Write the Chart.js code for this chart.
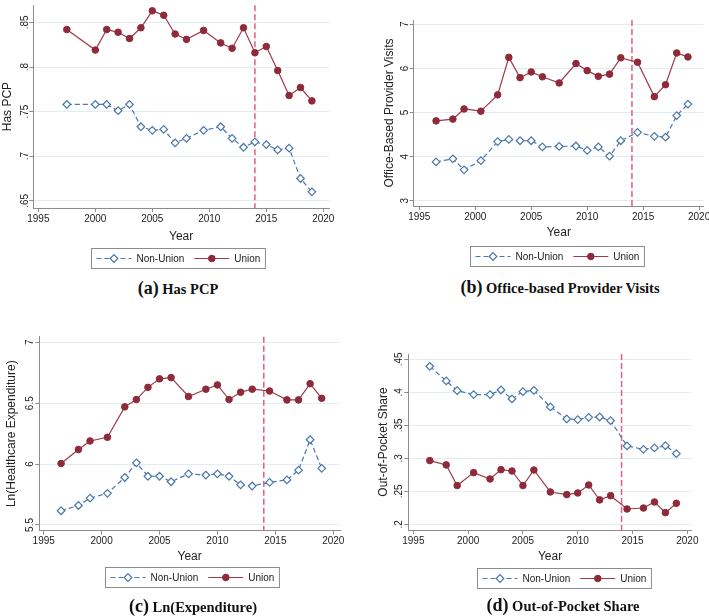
<!DOCTYPE html>
<html>
<head>
<meta charset="utf-8">
<script src="https://cdn.jsdelivr.net/npm/chart.js@4.4.1/dist/chart.umd.min.js"></script>
<style>
  html, body { margin: 0; padding: 0; background: #fff; }
  #page { position: relative; width: 709px; height: 616px; overflow: hidden; }
  canvas { position: absolute; }
  .cap { position: absolute; transform: translate(-50%, -50%); white-space: nowrap;
         font-family: 'Liberation Serif', 'Times New Roman', serif; font-weight: bold; font-size: 14.5px; color: #111; }
  .cap b { font-size: 18px; }
</style>
</head>
<body>
<div id="page">
  <canvas id="chartA" width="355" height="276" style="left:0;top:0"></canvas>
  <canvas id="chartB" width="354" height="276" style="left:355px;top:0"></canvas>
  <canvas id="chartC" width="355" height="288" style="left:0;top:308px"></canvas>
  <canvas id="chartD" width="354" height="288" style="left:355px;top:308px"></canvas>
  <div class="cap" style="left:178px;top:288px"><b>(a)</b> Has PCP</div>
  <div class="cap" style="left:560px;top:287px"><b>(b)</b> Office-based Provider Visits</div>
  <div class="cap" style="left:193px;top:606px"><b>(c)</b> Ln(Expenditure)</div>
  <div class="cap" style="left:563px;top:605px"><b>(d)</b> Out-of-Pocket Share</div>
</div>
<script>
// data
const yearsPcp = [1997.5, 2000, 2001, 2002, 2003, 2004, 2005, 2006, 2007, 2008, 2009.5, 2011, 2012, 2013, 2014, 2015, 2016, 2017, 2018, 2019]
const pcpNonUnion = [.758, .758, .758, .751, .758, .733, .729, .730, .715, .720, .729, .733, .720, .710, .716, .713, .707, .709, .675, .660]
const pcpUnion = [.842, .819, .842, .839, .832, .844, .863, .858, .837, .831, .841, .827, .821, .844, .816, .823, .796, .768, .777, .762]

const yearsPooled = [1996.5, 1998, 1999, 2000.5, 2002, 2003, 2004, 2005, 2006, 2007.5, 2009, 2010, 2011, 2012, 2013, 2014.5, 2016, 2017, 2018, 2019]
const visitsNonUnion = [3.88, 3.95, 3.70, 3.91, 4.34, 4.39, 4.36, 4.36, 4.22, 4.23, 4.24, 4.14, 4.22, 4.01, 4.36, 4.55, 4.46, 4.44, 4.93, 5.19]
const visitsUnion = [4.81, 4.85, 5.08, 5.03, 5.40, 6.25, 5.79, 5.92, 5.81, 5.67, 6.11, 5.95, 5.82, 5.87, 6.24, 6.14, 5.36, 5.63, 6.35, 6.26]
const lnExpNonUnion = [5.617, 5.66, 5.72, 5.76, 5.89, 6.01, 5.90, 5.90, 5.855, 5.92, 5.91, 5.92, 5.90, 5.83, 5.82, 5.85, 5.87, 5.95, 6.20, 5.965]
const lnExpUnion = [6.005, 6.12, 6.19, 6.22, 6.47, 6.53, 6.63, 6.70, 6.71, 6.555, 6.615, 6.65, 6.53, 6.59, 6.615, 6.60, 6.527, 6.527, 6.66, 6.54]
const oopNonUnion = [.4394, .4172, .4025, .3965, .3965, .4035, .3899, .401, .403, .3778, .3596, .3586, .3621, .3626, .357, .3187, .3136, .3157, .3192, .307]
const oopUnion = [.2965, .290, .2587, .2783, .2687, .2828, .2808, .2587, .2823, .249, .245, .2475, .2596, .237, .2434, .2232, .2247, .2338, .2177, .2318]

const yearTicks = [1995, 2000, 2005, 2010, 2015, 2020]
const pcpTicks = [.65, .7, .75, .8, .85]
const pcpTickLabels = ['.65', '.7', '.75', '.8', '.85']
const visitsTicks = [3, 4, 5, 6, 7]
const visitsTickLabels = ['3', '4', '5', '6', '7']
const lnExpTicks = [5.5, 6, 6.5, 7]
const lnExpTickLabels = ['5.5', '6', '6.5', '7']
const oopTicks = [.2, .25, .3, .35, .4, .45]
const oopTickLabels = ['.2', '.25', '.3', '.35', '.4', '.45']

const policyYear = 2014

/////////////////////////////////////////////////////////////
// styles
const blue = '#4a77ab'
const red = '#8e2a3a'
const redLine = '#9e3a48'
const axisGray = '#8c8c8c'
const gridColor = '#e1edf0'
const sansFont = "'Liberation Sans', Arial, sans-serif"

Chart.defaults.font.family = sansFont
Chart.defaults.color = '#222'

// dashed vertical line at the policy year
const policyLine = {
    id: 'policyLine',
    beforeDatasetsDraw(chart, args, opts) {
        const x = chart.scales.x.getPixelForValue(opts.year)
        const {top, bottom} = chart.chartArea
        const ctx = chart.ctx
        ctx.save()
        ctx.strokeStyle = '#e35f82'
        ctx.lineWidth = 1.5
        ctx.setLineDash([6, 3])
        ctx.beginPath()
        ctx.moveTo(x, top)
        ctx.lineTo(x, bottom)
        ctx.stroke()
        ctx.restore()
    }
}

// Stata-like legend: framed box, line + marker for each series
const boxLegend = {
    id: 'boxLegend',
    afterDraw(chart, args, opts) {
        const ctx = chart.ctx
        const items = chart.data.datasets
        ctx.save()
        ctx.font = '10px ' + sansFont
        const sym = 35, pad = 5, gap = 5, between = 10
        const widths = items.map(d => ctx.measureText(d.label).width)
        const total = pad * 2 + items.length * (sym + gap) + widths.reduce((a, b) => a + b, 0) + between * (items.length - 1)
        let x = Math.round(opts.cx - total / 2) + 0.5
        const y = opts.top + 0.5
        ctx.fillStyle = '#fff'
        ctx.fillRect(x, y, total, opts.height)
        ctx.strokeStyle = axisGray
        ctx.lineWidth = 1
        ctx.strokeRect(x, y, total, opts.height)
        const midY = y + opts.height / 2
        x += pad
        items.forEach((d, i) => {
            ctx.strokeStyle = d.borderColor
            ctx.lineWidth = d.borderWidth
            ctx.setLineDash(d.borderDash || [])
            ctx.beginPath()
            ctx.moveTo(x, midY)
            ctx.lineTo(x + sym, midY)
            ctx.stroke()
            ctx.setLineDash([])
            ctx.fillStyle = d.pointBackgroundColor
            ctx.strokeStyle = d.pointBorderColor
            ctx.lineWidth = d.pointBorderWidth
            Chart.helpers.drawPoint(ctx, {pointStyle: d.pointStyle, radius: d.pointRadius, borderWidth: d.pointBorderWidth, rotation: 0}, x + sym / 2, midY)
            x += sym + gap
            ctx.fillStyle = '#222'
            ctx.textBaseline = 'middle'
            ctx.textAlign = 'left'
            ctx.fillText(d.label, x, midY + 0.5)
            x += widths[i] + between
        })
        ctx.restore()
    }
}

function makePanel(id, p) {
    return new Chart(document.getElementById(id), {
        type: 'line',
        data: {
            datasets: [{
                label: 'Non-Union',
                data: p.years.map((yr, i) => ({x: yr, y: p.nonUnion[i]})),
                borderColor: blue,
                borderWidth: 1.2,
                borderDash: [5, 3],
                pointStyle: 'rectRot',
                pointRadius: 3.8,
                pointBackgroundColor: '#fff',
                pointBorderColor: blue,
                pointBorderWidth: 1.2,
            },
            {
                label: 'Union',
                data: p.years.map((yr, i) => ({x: yr, y: p.union[i]})),
                borderColor: redLine,
                borderWidth: 1.2,
                pointStyle: 'circle',
                pointRadius: 3.3,
                pointBackgroundColor: red,
                pointBorderColor: red,
                pointBorderWidth: 1,
            }]
        },
        plugins: [policyLine, boxLegend],
        options: {
            responsive: false,
            animation: false,
            layout: {padding: p.padding},
            plugins: {
                legend: {display: false},
                tooltip: {enabled: false},
                policyLine: {year: policyYear},
                boxLegend: p.legend,
            },
            scales: {
                x: {
                    type: 'linear',
                    min: p.xRange[0],
                    max: p.xRange[1],
                    afterBuildTicks: s => { s.ticks = yearTicks.map(v => ({value: v})) },
                    afterFit: s => { s.height = p.xHeight; s.paddingLeft = 0; s.paddingRight = 0 },
                    ticks: {
                        callback: v => String(v),
                        font: {size: 10},
                        padding: 1,
                        maxRotation: 0,
                        autoSkip: false,
                    },
                    grid: {drawOnChartArea: false, tickLength: 4, tickColor: axisGray},
                    border: {color: axisGray, width: 1},
                    title: {display: true, text: 'Year', font: {size: 12}, padding: 0, color: '#222'},
                },
                y: {
                    type: 'linear',
                    min: p.yRange[0],
                    max: p.yRange[1],
                    afterBuildTicks: s => { s.ticks = p.yTicks.map(v => ({value: v})) },
                    afterFit: s => { s.width = p.yWidth; s.paddingTop = 0; s.paddingBottom = 0 },
                    ticks: {
                        callback: (v, i) => p.yTickLabels[i],
                        font: {size: 10},
                        minRotation: 90,
                        maxRotation: 90,
                        crossAlign: 'center',
                        padding: p.tickPad,
                    },
                    grid: {color: gridColor, tickLength: 4, tickColor: axisGray},
                    border: {color: axisGray, width: 1},
                    title: {display: true, text: p.yTitle, font: {size: 12}, padding: {top: p.titlePad, bottom: 0}, color: '#222'},
                }
            }
        }
    })
}

makePanel('chartA', {
    years: yearsPcp, nonUnion: pcpNonUnion, union: pcpUnion,
    yTicks: pcpTicks, yTickLabels: pcpTickLabels, yTitle: 'Has PCP',
    yRange: [.6419, .8693], xRange: [1994.56, 2020.5],
    yWidth: 33.3, xHeight: 36, titlePad: 0, tickPad: -2.5,
    padding: {left: 0, top: 3.3, right: 26, bottom: 32},
    legend: {cx: 177.5, top: 248, height: 20},
})

makePanel('chartB', {
    years: yearsPooled, nonUnion: visitsNonUnion, union: visitsUnion,
    yTicks: visitsTicks, yTickLabels: visitsTickLabels, yTitle: 'Office-Based Provider Visits',
    yRange: [2.88, 7.0975], xRange: [1994.5, 2020.42],
    yWidth: 58.7, xHeight: 34.2, titlePad: 27, tickPad: 1.9,
    padding: {left: 0, top: 20, right: 5, bottom: 35.8},
    legend: {cx: 202, top: 246, height: 20},
})

makePanel('chartC', {
    years: yearsPooled, nonUnion: lnExpNonUnion, union: lnExpUnion,
    yTicks: lnExpTicks, yTickLabels: lnExpTickLabels, yTitle: 'Ln(Healthcare Expenditure)',
    yRange: [5.453, 7.046], xRange: [1994.62, 2020.58],
    yWidth: 39.3, xHeight: 33.2, titlePad: 4.5, tickPad: -1.5,
    padding: {left: 0, top: 28.7, right: 15, bottom: 32.1},
    legend: {cx: 192, top: 259, height: 20},
})

makePanel('chartD', {
    years: yearsPooled, nonUnion: oopNonUnion, union: oopUnion,
    yTicks: oopTicks, yTickLabels: oopTickLabels, yTitle: 'Out-of-Pocket Share',
    yRange: [.1914, .458], xRange: [1994.54, 2020.4],
    yWidth: 53.3, xHeight: 33.9, titlePad: 21.5, tickPad: -2,
    padding: {left: 0, top: 46, right: 17.3, bottom: 32.1},
    legend: {cx: 208.5, top: 260, height: 20},
})
</script>
</body>
</html>
